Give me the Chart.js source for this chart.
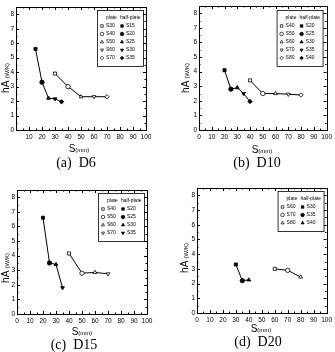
<!DOCTYPE html>
<html>
<head>
<meta charset="utf-8">
<script src="https://cdn.jsdelivr.net/npm/chart.js@4/dist/chart.umd.min.js"></script>
<style>
  html, body { margin: 0; padding: 0; background: #fff; }
  body { width: 335px; height: 352px; position: relative; overflow: hidden; font-family: "Liberation Sans", Arial, sans-serif; }
  canvas { position: absolute; }
  .lbl { position: absolute; transform: translate(-50%, -50%); white-space: nowrap; color: #000; line-height: 1; }
  .ytitle { transform: translate(-50%, -50%) rotate(-90deg); font-size: 10px; }
  .ytitle small, .xtitle small { font-size: 6px; }
  .xtitle { font-size: 10px; }
  .cap { font-family: "Liberation Serif", "Times New Roman", serif; font-size: 14px; }
</style>
</head>
<body>
<canvas id="cA" width="168" height="176" style="left:0;top:0"></canvas>
<canvas id="cB" width="167" height="176" style="left:168px;top:0"></canvas>
<canvas id="cC" width="168" height="176" style="left:0;top:176px"></canvas>
<canvas id="cD" width="167" height="176" style="left:168px;top:176px"></canvas>

<div class="lbl ytitle" style="left:6px;top:78px">hA <small>(W/K)</small></div>
<div class="lbl ytitle" style="left:186px;top:78px">hA <small>(W/K)</small></div>
<div class="lbl ytitle" style="left:6px;top:268px">hA <small>(W/K)</small></div>
<div class="lbl ytitle" style="left:185px;top:258px">hA <small>(W/K)</small></div>

<div class="lbl xtitle" style="left:79px;top:149px">S<small>(mm)</small></div>
<div class="lbl xtitle" style="left:262px;top:150px">S<small>(mm)</small></div>
<div class="lbl xtitle" style="left:82px;top:332px">S<small>(mm)</small></div>
<div class="lbl xtitle" style="left:261px;top:329px">S<small>(mm)</small></div>

<div class="lbl cap" style="left:76px;top:163px">(a)&nbsp;&nbsp;D6</div>
<div class="lbl cap" style="left:257px;top:163px">(b)&nbsp;&nbsp;D10</div>
<div class="lbl cap" style="left:74px;top:345px">(c)&nbsp;&nbsp;D15</div>
<div class="lbl cap" style="left:258px;top:342px">(d)&nbsp;&nbsp;D20</div>

<script>
/* ── data ── */
var xTicks = [0, 10, 20, 30, 40, 50, 60, 70, 80, 90, 100];
var yTicks = [0, 1, 2, 3, 4, 5, 6, 7, 8];

// (a) D6
var aHalfS = [15, 20, 25, 30, 35];
var aHalfHA = [5.6, 3.3, 2.2, 2.15, 1.95];
var aPlateS = [30, 40, 50, 60, 70];
var aPlateHA = [3.9, 3.0, 2.3, 2.3, 2.3];
var aPlateLbl = ["S30", "S40", "S50", "S60", "S70"];
var aHalfLbl = ["S15", "S20", "S25", "S30", "S35"];

// (b) D10
var bHalfS = [20, 25, 30, 35, 40];
var bHalfHA = [4.1, 2.8, 2.9, 2.5, 1.95];
var bPlateS = [40, 50, 60, 70, 80];
var bPlateHA = [3.4, 2.5, 2.5, 2.45, 2.4];
var bPlateLbl = ["S40", "S50", "S60", "S70", "S80"];
var bHalfLbl = ["S20", "S25", "S30", "S35", "S40"];

// (c) D15
var cHalfS = [20, 25, 30, 35];
var cHalfHA = [6.6, 3.5, 3.4, 1.8];
var cPlateS = [40, 50, 60, 70];
var cPlateHA = [4.15, 2.8, 2.85, 2.75];
var cPlateLbl = ["S40", "S50", "S60", "S70"];
var cHalfLbl = ["S20", "S25", "S30", "S35"];

// (d) D20
var dHalfS = [30, 35, 40];
var dHalfHA = [3.3, 2.2, 2.25];
var dPlateS = [60, 70, 80];
var dPlateHA = [3.0, 2.9, 2.45];
var dPlateLbl = ["S60", "S70", "S80"];
var dHalfLbl = ["S30", "S35", "S40"];

/* marker sequence: square, circle, triangle, inverted triangle, diamond */
var STYLES = ["rect", "circle", "triangle", "triangle", "rectRot"];
var ROTS = [0, 0, 0, 180, 0];
var RAD = 2.2;

function pts(xs, ys) {
  return xs.map(function (x, i) { return { x: x, y: ys[i] }; });
}

function drawMark(ctx, i, x, y, filled) {
  ctx.fillStyle = filled ? "#000" : "#fff";
  ctx.strokeStyle = "#000";
  ctx.lineWidth = 0.7;
  Chart.helpers.drawPoint(ctx, { pointStyle: STYLES[i], rotation: ROTS[i], radius: 1.8, borderWidth: 0.7 }, x, y);
}

/* frame with inward ticks on all sides, plus the boxed two-column legend */
var frameTicks = {
  id: "frameTicks",
  afterDatasetsDraw: function (chart) {
    var ctx = chart.ctx, a = chart.chartArea, sx = chart.scales.x, sy = chart.scales.y;
    ctx.save();
    ctx.strokeStyle = "#000";
    ctx.lineWidth = 1;
    ctx.strokeRect(Math.round(a.left) + 0.5, Math.round(a.top) + 0.5, Math.round(a.right - a.left), Math.round(a.bottom - a.top));
    ctx.beginPath();
    for (var v = 0; v <= 100; v += 5) {
      var px = Math.round(sx.getPixelForValue(v)) + 0.5;
      var len = v % 10 === 0 ? 3 : 1.5;
      ctx.moveTo(px, a.bottom); ctx.lineTo(px, a.bottom - len);
      ctx.moveTo(px, a.top); ctx.lineTo(px, a.top + len);
    }
    for (var w = 0; w <= 8.5; w += 0.5) {
      var py = Math.round(sy.getPixelForValue(w)) + 0.5;
      var l2 = w % 1 === 0 ? 3 : 1.5;
      ctx.moveTo(a.left, py); ctx.lineTo(a.left + l2, py);
      ctx.moveTo(a.right, py); ctx.lineTo(a.right - l2, py);
    }
    ctx.stroke();
    ctx.restore();
  },
  afterDraw: function (chart) {
    var o = chart.options.plugins.boxLegend;
    var ctx = chart.ctx, a = chart.chartArea;
    var n = o.plate.length;
    var w = 46, h = 16 + n * 8;
    var left = a.right - o.inset - w, top = a.top + o.inset;
    ctx.save();
    ctx.fillStyle = "#fff";
    ctx.fillRect(left, top, w, h);
    ctx.strokeStyle = "#000";
    ctx.lineWidth = 0.8;
    ctx.strokeRect(left + 0.5, top + 0.5, w, h);
    ctx.fillStyle = "#000";
    ctx.font = "5px 'Liberation Sans', Arial, sans-serif";
    ctx.textBaseline = "middle";
    ctx.fillText("plate", left + 9, top + 8);
    ctx.fillText("half-plate", left + 23, top + 8);
    for (var i = 0; i < n; i++) {
      var ry = top + 16 + i * 8;
      drawMark(ctx, i, left + 5, ry, false);
      ctx.fillStyle = "#000";
      ctx.fillText(o.plate[i], left + 9, ry);
      drawMark(ctx, i, left + 25, ry, true);
      ctx.fillStyle = "#000";
      ctx.fillText(o.half[i], left + 29, ry);
    }
    ctx.restore();
  }
};

function makePanel(id, half, plate, legPlate, legHalf, pad, inset, hideZero) {
  var n1 = half.length, n2 = plate.length;
  new Chart(document.getElementById(id), {
    type: "scatter",
    data: {
      datasets: [
        {
          data: half,
          showLine: true,
          borderColor: "#000",
          borderWidth: 1,
          pointStyle: STYLES.slice(0, n1),
          rotation: ROTS.slice(0, n1),
          pointRadius: RAD,
          pointBackgroundColor: "#000",
          pointBorderColor: "#000",
          pointBorderWidth: 0.8
        },
        {
          data: plate,
          showLine: true,
          borderColor: "#000",
          borderWidth: 1,
          pointStyle: STYLES.slice(0, n2),
          rotation: ROTS.slice(0, n2),
          pointRadius: RAD,
          pointBackgroundColor: "#fff",
          pointBorderColor: "#000",
          pointBorderWidth: 0.8
        }
      ]
    },
    options: {
      responsive: false,
      animation: false,
      layout: { padding: pad },
      plugins: {
        legend: { display: false },
        tooltip: { enabled: false },
        boxLegend: { plate: legPlate, half: legHalf, inset: inset }
      },
      scales: {
        x: {
          type: "linear", min: 0, max: 100,
          grid: { display: false, drawTicks: false },
          border: { display: false },
          afterBuildTicks: function (s) { s.ticks = xTicks.map(function (v) { return { value: v }; }); },
          afterFit: function (s) { s.height = 12; },
          ticks: {
            padding: 3, color: "#000", maxRotation: 0, autoSkip: false,
            font: { family: "'Liberation Sans', Arial, sans-serif", size: 6.5 },
            callback: function (v) { return (hideZero && v === 0) ? "" : v; }
          }
        },
        y: {
          type: "linear", min: 0, max: 8.5,
          grid: { display: false, drawTicks: false },
          border: { display: false },
          afterBuildTicks: function (s) { s.ticks = yTicks.map(function (v) { return { value: v }; }); },
          afterFit: function (s) { s.width = 16; },
          ticks: {
            padding: 2, color: "#000", autoSkip: false,
            font: { family: "'Liberation Sans', Arial, sans-serif", size: 6.5 }
          }
        }
      }
    },
    plugins: [frameTicks]
  });
}

makePanel("cA", pts(aHalfS, aHalfHA), pts(aPlateS, aPlateHA), aPlateLbl, aHalfLbl,
  { left: 0, top: 7, right: 22, bottom: 34 }, 3, true);
makePanel("cB", pts(bHalfS, bHalfHA), pts(bPlateS, bPlateHA), bPlateLbl, bHalfLbl,
  { left: 15, top: 6, right: 6, bottom: 34 }, 4, false);
makePanel("cC", pts(cHalfS, cHalfHA), pts(cPlateS, cPlateHA), cPlateLbl, cHalfLbl,
  { left: 1, top: 14, right: 21, bottom: 26 }, 3, false);
makePanel("cD", pts(dHalfS, dHalfHA), pts(dPlateS, dPlateHA), dPlateLbl, dHalfLbl,
  { left: 13, top: 12, right: 8, bottom: 27 }, 3, false);
</script>
</body>
</html>
